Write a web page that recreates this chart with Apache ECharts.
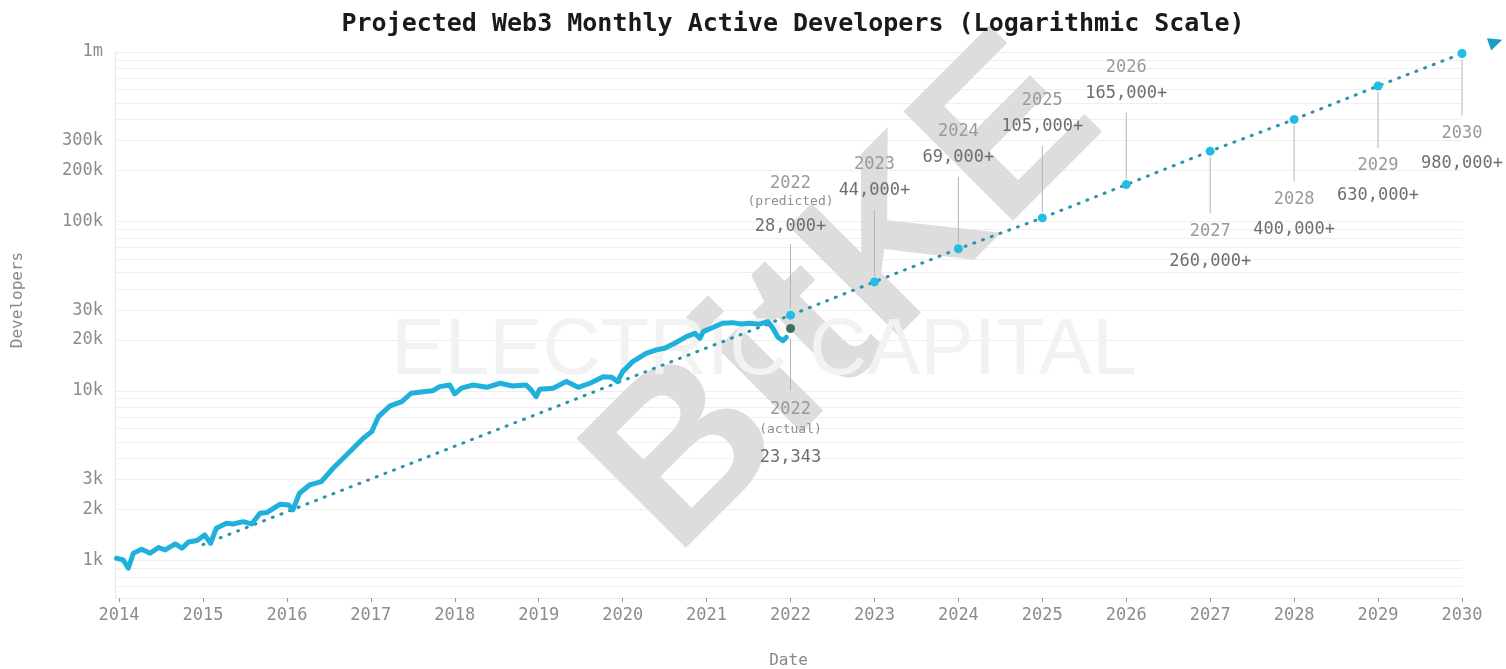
<!DOCTYPE html>
<html>
<head>
<meta charset="utf-8">
<script src="https://cdn.jsdelivr.net/npm/echarts@6/dist/echarts.min.js"></script>
<style>
  html, body { margin: 0; padding: 0; background: #fff; }
  #chart { width: 1506px; height: 669px; }
</style>
</head>
<body>
<div id="chart"></div>
<script>
// monthly active developers
const devYears = [2013.97, 2014.05, 2014.11, 2014.17, 2014.27, 2014.37, 2014.47, 2014.55, 2014.67, 2014.75,
  2014.83, 2014.93, 2015.02, 2015.09, 2015.16, 2015.28, 2015.36, 2015.48, 2015.58, 2015.68,
  2015.76, 2015.92, 2016.02, 2016.07, 2016.15, 2016.27, 2016.41, 2016.55, 2016.71, 2016.91,
  2017.01, 2017.09, 2017.23, 2017.37, 2017.48, 2017.62, 2017.74, 2017.82, 2017.94, 2018.00,
  2018.08, 2018.22, 2018.38, 2018.54, 2018.69, 2018.85, 2018.91, 2018.97, 2019.01, 2019.17,
  2019.33, 2019.47, 2019.61, 2019.77, 2019.87, 2019.94, 2020.00, 2020.12, 2020.28, 2020.40,
  2020.50, 2020.62, 2020.76, 2020.86, 2020.92, 2020.96, 2021.08, 2021.19, 2021.31, 2021.41,
  2021.51, 2021.63, 2021.73, 2021.79, 2021.85, 2021.91, 2021.95]
const devValues = [1030, 1007, 899, 1102, 1164, 1102, 1191, 1153, 1251, 1180,
  1285, 1309, 1413, 1262, 1549, 1657, 1641, 1693, 1641, 1900,
  1916, 2147, 2125, 1985, 2490, 2787, 2915, 3497, 4191, 5256,
  5751, 7047, 8160, 8650, 9690, 9900, 10040, 10600, 10840, 9600,
  10380, 10840, 10510, 11100, 10700, 10840, 10140, 9250, 10240, 10380,
  11350, 10510, 11100, 12130, 12040, 11350, 13000, 14890, 16680, 17460,
  17860, 19110, 20900, 21880, 20450, 22390, 23760, 25070, 25290, 24830,
  25070, 24760, 25640, 23440, 20730, 19800, 20730]

// projection
const projYears = [2022, 2023, 2024, 2025, 2026, 2027, 2028, 2029, 2030]
const projValues = [28000, 44000, 69000, 105000, 165000, 260000, 400000, 630000, 980000]
const projLabels = ['28,000+', '44,000+', '69,000+', '105,000+', '165,000+', '260,000+', '400,000+', '630,000+', '980,000+']
const trendStart = [2015, 1240]
const trendEnd = [2030.48, 1180000]

const actualYear = 2022
const actualValue = 23343
const actualLabel = '23,343'

// axis ticks
const xTickYears = [2014, 2015, 2016, 2017, 2018, 2019, 2020, 2021, 2022, 2023, 2024, 2025, 2026, 2027, 2028, 2029, 2030]
const yLabelValues = [1000, 2000, 3000, 10000, 20000, 30000, 100000, 200000, 300000, 1000000]
const yGridValues = [600, 700, 800, 900, 1000, 2000, 3000, 4000, 5000, 6000, 7000, 8000, 9000,
  10000, 20000, 30000, 40000, 50000, 60000, 70000, 80000, 90000,
  100000, 200000, 300000, 400000, 500000, 600000, 700000, 800000, 900000, 1000000]

const mono = '"DejaVu Sans Mono", monospace'

let chartDom = document.getElementById('chart')
let myChart = echarts.init(chartDom)

let trendData = [trendStart]
for (let i = 0; i < projYears.length; i++) {
  trendData.push([projYears[i], projValues[i]])
}
trendData.push(trendEnd)

// annotation items: [year, value, kind] kind 0 = label above, 1 = label below
let annotData = []
for (let i = 0; i < projYears.length; i++) {
  annotData.push({value: [projYears[i], projValues[i], projYears[i] <= 2026 ? 0 : 1], text: projLabels[i], sub: projYears[i] === 2022 ? '(predicted)' : '', dot: '#22bde6'})
}
annotData.push({value: [actualYear, actualValue, 1], text: actualLabel, sub: '(actual)', dot: '#3d6e5e'})

function textEl (x, y, text, size, color) {
  return {
    type: 'text',
    style: {
      text: text, x: x, y: y,
      textAlign: 'center', textVerticalAlign: 'middle',
      font: size + 'px ' + mono, fill: color
    }
  }
}

function renderAnnot (params, api) {
  let item = annotData[params.dataIndex]
  let p = api.coord([api.value(0), api.value(1)])
  let x = p[0]
  let y = p[1]
  let year = String(api.value(0))
  let kids = []
  let lineTop, lineBottom
  if (api.value(2) === 0) {
    if (item.sub) {
      lineTop = y - 71; lineBottom = y - 7
      kids.push(textEl(x, y - 89, item.text, 17, '#6e6e6e'))
      kids.push(textEl(x, y - 114, item.sub, 13, '#8e8e8e'))
      kids.push(textEl(x, y - 132, year, 17, '#999999'))
    } else {
      lineTop = y - 72; lineBottom = y - 6
      kids.push(textEl(x, y - 91, item.text, 17, '#6e6e6e'))
      kids.push(textEl(x, y - 117, year, 17, '#999999'))
    }
  } else {
    if (item.sub) {
      lineTop = y + 10; lineBottom = y + 62
      kids.push(textEl(x, y + 81, year, 17, '#999999'))
      kids.push(textEl(x, y + 101, item.sub, 13, '#8e8e8e'))
      kids.push(textEl(x, y + 129, item.text, 17, '#6e6e6e'))
    } else {
      lineTop = y + 6; lineBottom = y + 62
      kids.push(textEl(x, y + 80, year, 17, '#999999'))
      kids.push(textEl(x, y + 110, item.text, 17, '#6e6e6e'))
    }
  }
  kids.push({
    type: 'line',
    shape: {x1: x, y1: lineTop, x2: x, y2: lineBottom},
    style: {stroke: '#b4b4b4', lineWidth: 1}
  })
  kids.push({
    type: 'circle',
    shape: {cx: x, cy: y, r: 4.5},
    style: {fill: item.dot}
  })
  return {type: 'group', children: kids}
}

// arrow head at the end of the projection, pointing along the last segment
function renderArrow (params, api) {
  let tip = api.coord([api.value(0), api.value(1)])
  let prev = api.coord([projYears[projYears.length - 1], projValues[projValues.length - 1]])
  let dx = tip[0] - prev[0]
  let dy = tip[1] - prev[1]
  let len = Math.sqrt(dx * dx + dy * dy)
  let ux = dx / len
  let uy = dy / len
  let bx = tip[0] - ux * 14
  let by = tip[1] - uy * 14
  return {
    type: 'polygon',
    shape: {points: [tip, [bx - uy * 6.5, by + ux * 6.5], [bx + uy * 6.5, by - ux * 6.5]]},
    style: {fill: '#1a9cc6'}
  }
}

let option = {
  backgroundColor: '#ffffff',
  animation: false,
  title: {
    text: 'Projected Web3 Monthly Active Developers (Logarithmic Scale)',
    left: 788,
    top: 7,
    textAlign: 'center',
    textStyle: {fontFamily: mono, fontSize: 25, fontWeight: 'bold', color: '#1a1a1a'}
  },
  graphic: {
    elements: [
      {
        type: 'text', x: 848, y: 298, rotation: Math.PI / 4, z: 1,
        style: {
          text: 'BitKE', font: 'bold 225px "Liberation Sans"', fill: '#dddddd',
          textAlign: 'center', textVerticalAlign: 'middle'
        }
      },
      {
        type: 'text', x: 764, y: 352, z: 1,
        style: {
          text: 'ELECTRIC CAPITAL', font: '80px "Liberation Sans"', fill: '#f2f2f2',
          textAlign: 'center', textVerticalAlign: 'middle'
        }
      },
      {
        type: 'text', x: 18, y: 300, rotation: Math.PI / 2,
        style: {
          text: 'Developers', font: '16px ' + mono, fill: '#888888',
          textAlign: 'center', textVerticalAlign: 'middle'
        }
      }
    ]
  },
  grid: {left: 115, right: 44, top: 52, bottom: 71, outerBoundsMode: 'none', containLabel: false},
  xAxis: {
    type: 'value',
    min: 2013.952,
    max: 2030,
    name: 'Date',
    nameLocation: 'middle',
    nameGap: 55,
    nameTextStyle: {fontFamily: mono, fontSize: 16, color: '#888888'},
    axisLine: {show: true, lineStyle: {color: '#eeeeee'}},
    axisTick: {show: true, customValues: xTickYears, length: 4, lineStyle: {color: '#999999'}},
    axisLabel: {
      customValues: xTickYears,
      margin: 9,
      fontFamily: mono, fontSize: 17, color: '#8c8c8c',
      formatter: function (v) { return String(Math.round(v)) }
    },
    splitLine: {show: false}
  },
  yAxis: {
    type: 'log',
    logBase: 10,
    min: 600,
    max: 1000000,
    axisLine: {show: true, lineStyle: {color: '#e8e8e8'}},
    axisTick: {show: false, customValues: yGridValues},
    axisLabel: {
      customValues: yLabelValues,
      margin: 12,
      fontFamily: mono, fontSize: 17, color: '#8c8c8c',
      formatter: function (v) {
        let r = Math.round(v)
        if (r >= 1000000) return Math.round(r / 1000000) + 'm'
        return Math.round(r / 1000) + 'k'
      }
    },
    splitLine: {show: true, lineStyle: {color: '#efefef', width: 1}}
  },
  series: [
    {
      name: 'Projection',
      type: 'line',
      z: 3,
      clip: false,
      symbol: 'none',
      data: trendData,
      lineStyle: {color: '#2a93ab', width: 3, type: [1, 8.3], cap: 'round'}
    },
    {
      name: 'Developers',
      type: 'line',
      z: 4,
      showSymbol: false,
      data: devYears.map(function (y, i) { return [y, devValues[i]] }),
      lineStyle: {color: '#1fb1dc', width: 5, join: 'round', cap: 'round'}
    },
    {
      name: 'Labels',
      type: 'custom',
      z: 5,
      clip: false,
      renderItem: renderAnnot,
      data: annotData.map(function (d) { return d.value })
    },
    {
      name: 'Arrow',
      type: 'custom',
      z: 5,
      clip: false,
      renderItem: renderArrow,
      data: [trendEnd]
    }
  ]
}
myChart.setOption(option, true)
</script>
</body>
</html>
